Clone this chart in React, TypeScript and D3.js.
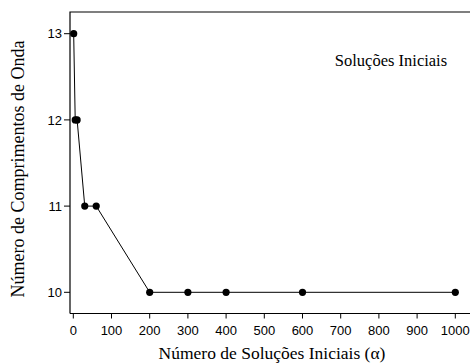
import React from "react";
import * as d3 from "d3";

const alphas = [1, 5, 10, 30, 60, 200, 300, 400, 600, 1000];
const waves = [13, 12, 12, 11, 11, 10, 10, 10, 10, 10];
const xTicks = [0, 100, 200, 300, 400, 500, 600, 700, 800, 900, 1000];
const yTicks = [10, 11, 12, 13];
const xTitle = "Número de Soluções Iniciais (α)";
const yTitle = "Número de Comprimentos de Onda";
const note = "Soluções Iniciais";

export default function App() {
  const W = 470, H = 364;
  const x = d3.scaleLinear().domain([0, 1000]).range([73.3, 455.3]);
  const y = d3.scaleLinear().domain([10, 13]).range([292.3, 33.7]);
  const left = 70, top = 12, bottom = 313.5, right = 490;
  const line = d3.line<number>().x((_, i) => x(alphas[i])).y((d) => y(d));
  const sans = "'Liberation Sans', Arial, sans-serif";
  const serif = "'Liberation Serif', 'Times New Roman', serif";
  return (
    <svg width={W} height={H} style={{ position: "absolute", left: 0, top: 0, background: "#fff" }}>
      <rect x={0} y={0} width={W} height={H} fill="#fff" />
      <path d={`M${left},${bottom}V${top}H${right}`} fill="none" stroke="#000" strokeWidth={1.2} />
      <line x1={left} x2={right} y1={bottom} y2={bottom} stroke="#000" strokeWidth={1.2} />
      {yTicks.map((t) => (
        <g key={t}>
          <line x1={left - 6} x2={left} y1={y(t)} y2={y(t)} stroke="#000" strokeWidth={1} />
          <text x={left - 8} y={y(t)} dy="0.36em" textAnchor="end" fontFamily={sans} fontSize={13} fill="#000">{t}</text>
        </g>
      ))}
      {xTicks.map((t) => (
        <g key={t}>
          <line x1={x(t)} x2={x(t)} y1={bottom} y2={bottom + 5} stroke="#000" strokeWidth={1} />
          <text x={x(t)} y={bottom + 21} textAnchor="middle" fontFamily={sans} fontSize={13} fill="#000">{t}</text>
        </g>
      ))}
      <path d={line(waves) || ""} fill="none" stroke="#000" strokeWidth={1} />
      {waves.map((v, i) => (
        <circle key={i} cx={x(alphas[i])} cy={y(v)} r={3.6} fill="#000" />
      ))}
      <text x={391} y={66} textAnchor="middle" fontFamily={serif} fontSize={16.5} fill="#000">{note}</text>
      <text x={272} y={359} textAnchor="middle" fontFamily={serif} fontSize={17.5} fill="#000">{xTitle}</text>
      <text transform={`translate(24,169) rotate(-90)`} textAnchor="middle" fontFamily={serif} fontSize={18} fill="#000">{yTitle}</text>
    </svg>
  );
}
